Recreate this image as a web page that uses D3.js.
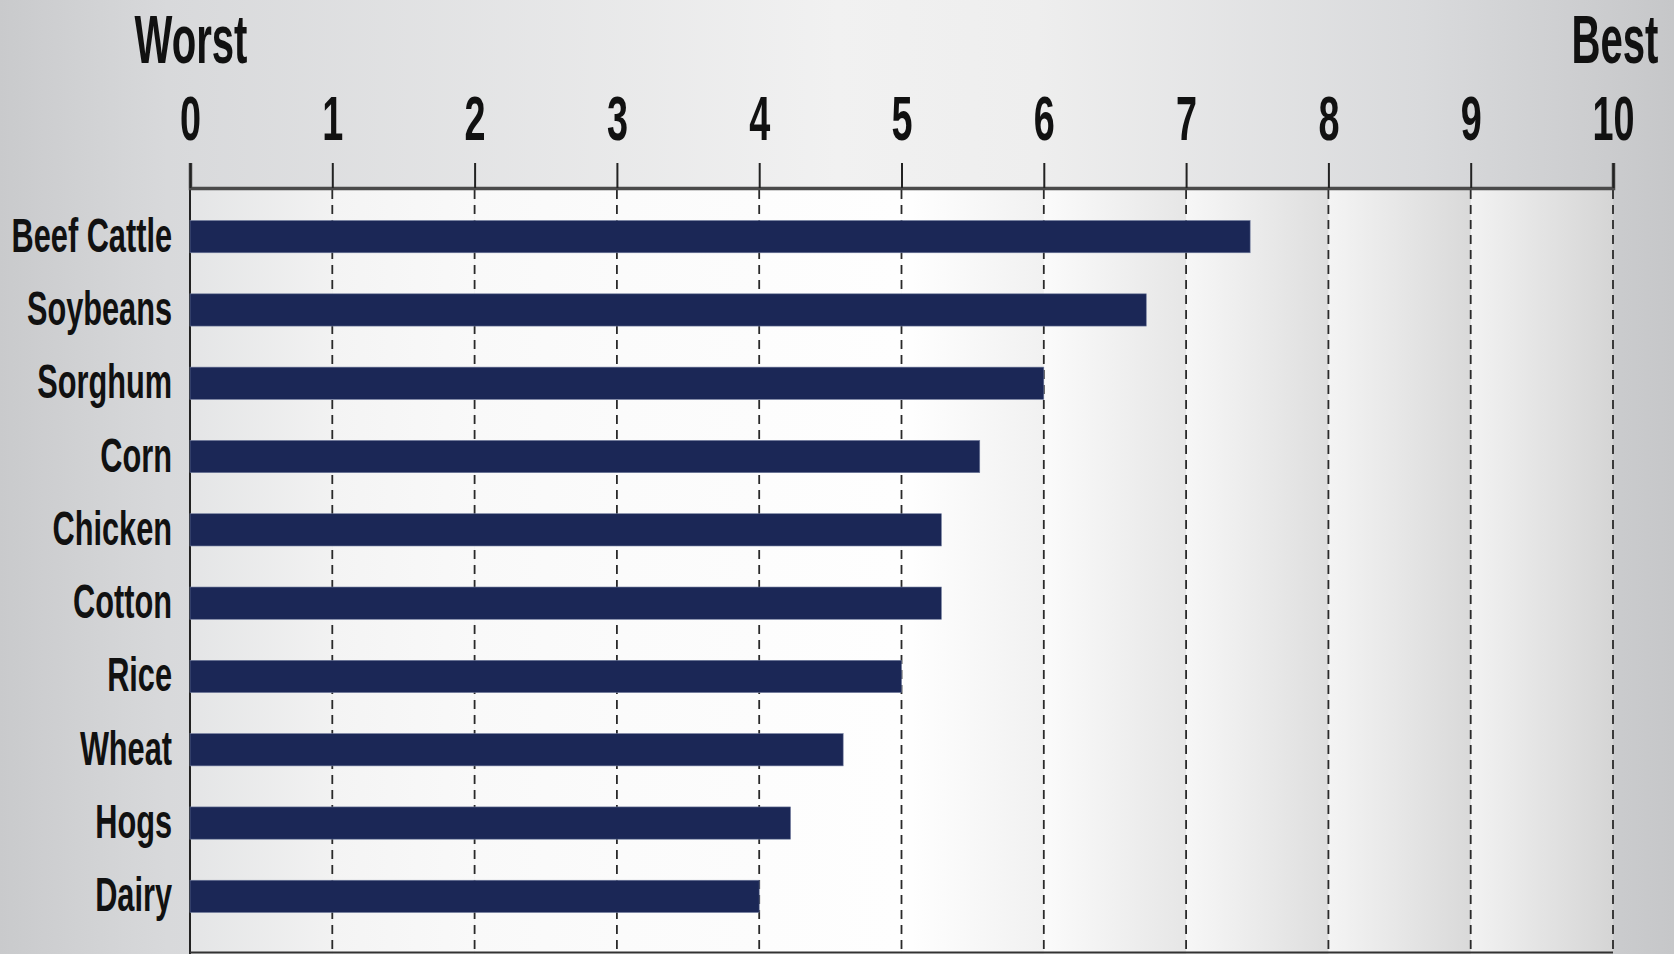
<!DOCTYPE html>
<html>
<head>
<meta charset="utf-8">
<script src="https://cdn.jsdelivr.net/npm/d3@7/dist/d3.min.js"></script>
<style>
html,body{margin:0;padding:0;overflow:hidden;background:#d6d7d9;}
text{font-family:"Liberation Sans",Arial,sans-serif;font-weight:bold;fill:#111;}
</style>
</head>
<body>
<svg id="chart" width="1674" height="954"></svg>
<script>
const categories = ["Beef Cattle","Soybeans","Sorghum","Corn","Chicken","Cotton","Rice","Wheat","Hogs","Dairy"];
const values = [7.45, 6.72, 6.0, 5.55, 5.28, 5.28, 5.0, 4.59, 4.22, 4.0];
const tickValues = [0,1,2,3,4,5,6,7,8,9,10];
const endLabels = ["Worst","Best"];

const W = 1674, H = 954;
const svg = d3.select("#chart");
const defs = svg.append("defs");

// page background gradient
const bg = defs.append("linearGradient").attr("id","bg").attr("x1","0").attr("x2","1").attr("y1","0").attr("y2","0");
[[0,"#c9cacc"],[0.1,"#d8d9db"],[0.5,"#f1f1f1"],[0.62,"#eeeeee"],[0.85,"#d9dadc"],[1,"#c6c7c9"]]
  .forEach(([o,c])=>bg.append("stop").attr("offset",o).attr("stop-color",c));
svg.append("rect").attr("width",W).attr("height",H).attr("fill","url(#bg)");

const x = d3.scaleLinear().domain([0,10]).range([190,1613]);
const y = d3.scaleBand().domain(categories).range([200,933]).paddingInner(0.56).paddingOuter(0.28);
const plotTop = 188, plotBottom = 954;

// column shading per grid interval
const colStops = [
  ["#e4e5e6","#f2f2f2"],["#f4f4f4","#f9f9f9"],["#f9f9f9","#fbfbfb"],["#fbfbfb","#fcfcfc"],["#fdfdfd","#fefefe"],
  ["#ffffff","#f1f1f1"],["#fbfbfb","#e6e6e6"],["#f7f7f7","#dedede"],["#f4f4f4","#d9d9d9"],["#f2f2f2","#d5d5d5"]
];
colStops.forEach((s,i)=>{
  const g = defs.append("linearGradient").attr("id","col"+i).attr("x1","0").attr("x2","1").attr("y1","0").attr("y2","0");
  g.append("stop").attr("offset",0).attr("stop-color",s[0]);
  g.append("stop").attr("offset",1).attr("stop-color",s[1]);
});
svg.append("g").selectAll("rect").data(tickValues.slice(0,-1)).join("rect")
  .attr("x",d=>x(d)).attr("y",plotTop).attr("width",d=>x(d+1)-x(d)).attr("height",plotBottom-plotTop)
  .attr("fill",(d,i)=>`url(#col${i})`);

// dashed gridlines
svg.append("g").selectAll("line").data(tickValues.slice(1)).join("line")
  .attr("x1",d=>x(d)).attr("x2",d=>x(d)).attr("y1",plotTop+2).attr("y2",plotBottom)
  .attr("stroke","#2a2a2a").attr("stroke-width",1.8).attr("stroke-dasharray","9,6");

// left solid axis line
svg.append("line").attr("x1",x(0)).attr("x2",x(0)).attr("y1",163).attr("y2",plotBottom)
  .attr("stroke","#222").attr("stroke-width",2);
// bottom line
svg.append("line").attr("x1",x(0)).attr("x2",x(10)).attr("y1",952.5).attr("y2",952.5)
  .attr("stroke","#333").attr("stroke-width",2);

// top axis
const axis = d3.axisTop(x).tickValues(tickValues).tickSize(25).tickFormat(d3.format("d"));
const ag = svg.append("g").attr("transform",`translate(0,${plotTop})`).call(axis);
ag.select(".domain").attr("stroke","#4a4a4a").attr("stroke-width",3.5);
ag.selectAll(".tick line").attr("stroke","#222").attr("stroke-width",2);
ag.selectAll(".tick text").attr("font-size",63).attr("fill","#111")
  .attr("y",null).attr("dy",null).attr("x",0)
  .attr("text-anchor","middle")
  .attr("transform","translate(0,-48) scale(0.6,1)");

// end labels
svg.append("g").selectAll("text").data(endLabels).join("text")
  .attr("text-anchor","middle").attr("font-size",68)
  .attr("transform",(d,i)=>`translate(${x(i===0?0:10)+(i===0?1:2)},63) scale(0.59,1)`)
  .text(d=>d);

// bars
svg.append("g").selectAll("rect").data(values).join("rect")
  .attr("x",x(0)).attr("y",(d,i)=>y(categories[i]))
  .attr("width",d=>x(d)-x(0)).attr("height",y.bandwidth())
  .attr("fill","#1b2756").attr("stroke","#6f7a9c").attr("stroke-width",0.6);

// category labels
svg.append("g").selectAll("text").data(categories).join("text")
  .attr("text-anchor","end").attr("font-size",48)
  .attr("transform",d=>`translate(172,${y(d)+y.bandwidth()/2+15}) scale(0.64,1)`)
  .text(d=>d);
</script>
</body>
</html>
